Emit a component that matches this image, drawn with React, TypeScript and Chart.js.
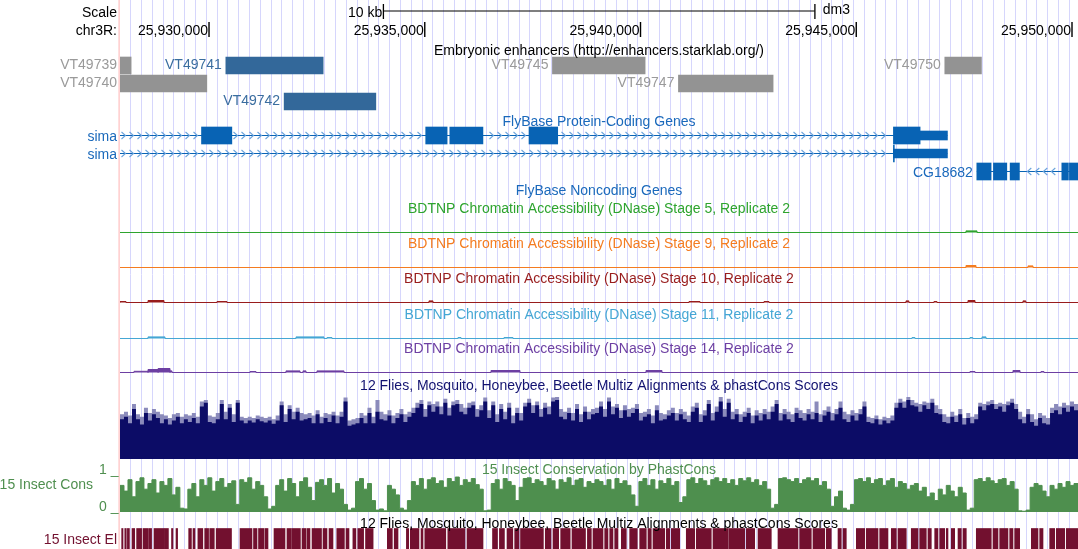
import React, { useEffect, useRef } from "react";
import { Chart, registerables } from "chart.js";

Chart.register(...registerables);

// ---------------- genomic window (dm3, chr3R) ----------------
const WIN_START = 25927937;
const WIN_END = 25950139;
const GRID_STEP_BP = 250;
const SCALE_BAR_BP = 10000;
const rulerTicks = [25930000, 25935000, 25940000, 25945000, 25950000];

// ---------------- Embryonic enhancers ----------------
const enhancerNames = ["VT49739", "VT49740", "VT49741", "VT49742", "VT49745", "VT49747", "VT49750"];
const enhancerStarts = [25927700, 25927500, 25930390, 25931741, 25937959, 25940879, 25947052];
const enhancerEnds = [25928195, 25929949, 25932645, 25933866, 25940107, 25943073, 25947901];
const enhancerRow = [0, 1, 0, 2, 0, 1, 0];
const enhancerActive = [false, false, true, true, false, false, false];

// ---------------- FlyBase protein-coding genes ----------------
const geneNames = ["sima", "sima", "CG18682"];
const geneStarts = [25915000, 25915000, 25947794];
const geneEnds = [25947113, 25947113, 25950400];
const geneStrand = ["+", "+", "-"];
const geneCds = [
  [[25929826, 25930529], [25935022, 25935518], [25935581, 25936348], [25937416, 25938081], [25945861, 25946480]],
  [[25945861, 25945882]],
  [[25947794, 25948125], [25948179, 25948489], [25948566, 25948781], [25949764, 25949917], [25949940, 25950400]],
];
const geneUtr = [[[25946480, 25947113]], [[25945861, 25947113]], []];

// ---------------- BDTNP DNase peaks: [start, end, signal] ----------------
const dnaseStage5 = [[25947543, 25947798, 8]];
const dnaseStage9 = [[25947543, 25947775, 10], [25948980, 25949096, 8]];
const dnaseStage10 = [
  [25927937, 25928076, 5], [25928586, 25928957, 10], [25930185, 25930417, 5], [25935098, 25935190, 8],
  [25941124, 25941379, 5], [25942862, 25942978, 5], [25946153, 25946220, 8], [25946801, 25946870, 5],
  [25947589, 25947752, 10], [25948864, 25948930, 8],
];
const dnaseStage11 = [
  [25928586, 25928980, 8], [25932016, 25932665, 8], [25932734, 25932850, 5], [25935770, 25935840, 5],
  [25936836, 25937045, 5], [25946292, 25946360, 5], [25947636, 25947700, 5], [25947914, 25948007, 8],
];
const dnaseStage14 = [
  [25928261, 25928586, 6], [25928586, 25928820, 15], [25928820, 25929096, 20], [25929096, 25929142, 8],
  [25930950, 25931089, 5], [25931784, 25932109, 8], [25932178, 25932248, 8], [25932502, 25933128, 8],
  [25936535, 25937207, 10], [25940127, 25940498, 10], [25947636, 25947752, 5], [25948632, 25948795, 10],
  [25949281, 25949350, 5],
];
const dnaseTitles = [
  "BDTNP Chromatin Accessibility (DNase) Stage 5, Replicate 2",
  "BDTNP Chromatin Accessibility (DNase) Stage 9, Replicate 2",
  "BDTNP Chromatin Accessibility (DNase) Stage 10, Replicate 2",
  "BDTNP Chromatin Accessibility (DNase) Stage 11, Replicate 2",
  "BDTNP Chromatin Accessibility (DNase) Stage 14, Replicate 2",
];

// ---------------- Multiz conservation (per bin, 0-100) ----------------
const multizMean = [
  62, 66, 56, 78, 62, 54, 72, 60, 70, 64, 56, 62, 54, 60, 66, 56, 62, 58, 64, 56, 82, 88, 58, 56, 62,
  86, 62, 80, 58, 88, 60, 56, 60, 57, 62, 59, 57, 60, 55, 60, 84, 58, 78, 62, 74, 60, 62, 64, 56, 70,
  56, 64, 58, 68, 56, 66, 90, 52, 54, 56, 64, 56, 72, 56, 74, 62, 60, 68, 56, 64, 70, 58, 66, 72, 80,
  86, 66, 84, 74, 82, 70, 88, 68, 84, 86, 74, 70, 80, 84, 66, 76, 90, 64, 84, 58, 78, 62, 80, 56, 72,
  60, 82, 88, 72, 84, 66, 80, 70, 90, 92, 66, 62, 72, 60, 78, 58, 74, 62, 70, 72,
  82, 66, 90, 70, 80, 64, 76, 66, 72, 78, 60, 66, 70, 56, 76, 60, 62, 68, 72, 60, 70, 62, 58, 74, 80,
  58, 68, 86, 60, 74, 90, 66, 88, 62, 70, 58, 66, 72, 56, 68, 60, 70, 62, 74, 86, 60, 70, 62, 58, 72,
  64, 60, 70, 62, 72, 58, 68, 74, 60, 70, 80, 62, 58, 68, 60, 70, 82, 58, 56, 62, 54, 60, 56, 60, 80,
  88, 80, 92, 84, 82, 74, 84, 78, 88, 72, 70, 58, 56, 66, 58, 70, 54, 64, 56, 62, 82, 76, 84, 86, 78,
  82, 74, 84, 88, 78, 62, 56, 70, 58, 52, 64, 56, 54, 72, 76, 70, 80, 74, 82, 76,
];
const multizMax = [
  70, 74, 68, 86, 70, 66, 80, 72, 78, 74, 70, 68, 64, 70, 72, 66, 70, 68, 72, 66, 90, 92, 68, 66, 72,
  92, 74, 86, 70, 92, 66, 64, 66, 64, 68, 66, 64, 66, 62, 68, 90, 70, 84, 74, 80, 72, 70, 72, 68, 76,
  66, 72, 70, 74, 68, 74, 96, 60, 62, 64, 72, 68, 80, 66, 92, 74, 70, 76, 68, 72, 78, 70, 74, 80, 88,
  92, 78, 90, 86, 90, 82, 94, 80, 90, 92, 86, 80, 88, 90, 78, 84, 96, 76, 90, 70, 86, 74, 88, 68, 80,
  72, 88, 94, 84, 90, 78, 88, 82, 96, 97, 78, 74, 80, 72, 86, 70, 82, 74, 78, 80,
  90, 78, 96, 82, 86, 76, 84, 78, 80, 86, 72, 74, 78, 68, 84, 72, 70, 76, 80, 72, 78, 74, 68, 82, 88,
  70, 76, 92, 72, 82, 97, 78, 94, 74, 78, 70, 74, 80, 68, 76, 72, 78, 74, 82, 92, 72, 78, 74, 70, 80,
  76, 72, 78, 74, 90, 70, 76, 82, 72, 78, 90, 74, 70, 76, 72, 78, 90, 66, 64, 68, 62, 66, 64, 68, 88,
  94, 90, 97, 92, 88, 86, 90, 88, 94, 84, 78, 70, 66, 74, 68, 78, 64, 72, 66, 70, 88, 86, 90, 92, 86,
  88, 86, 90, 94, 86, 74, 66, 78, 70, 62, 72, 68, 64, 80, 86, 82, 88, 84, 90, 86,
];

// ---------------- 15 insect phastCons (per bin, 0-100) ----------------
const phastCons = [
  70, 55, 85, 40, 80, 90, 60, 75, 85, 50, 80, 70, 88, 45, 65, 10, 8, 60, 75, 40, 85, 70, 90, 55, 80,
  88, 65, 75, 82, 20, 85, 78, 90, 60, 80, 70, 40, 8, 15, 70, 85, 55, 88, 75, 40, 80, 90, 65, 30, 78,
  85, 70, 88, 50, 75, 60, 20, 5, 10, 80, 88, 60, 75, 30, 5, 8, 3, 70, 60, 45, 10, 5, 30, 80, 70,
  88, 60, 85, 90, 75, 82, 65, 88, 80, 92, 70, 85, 78, 88, 72, 60, 3, 5, 75, 85, 60, 88, 80, 70, 30,
  65, 88, 90, 75, 85, 80, 70, 88, 82, 60, 85, 78, 90, 70, 84, 88, 65, 80, 75, 85,
  80, 70, 85, 60, 88, 75, 82, 70, 45, 15, 80, 88, 70, 85, 60, 82, 75, 88, 70, 80, 25, 40, 85, 90, 75,
  88, 82, 70, 85, 90, 80, 88, 75, 85, 70, 88, 82, 90, 78, 85, 70, 80, 60, 10, 20, 88, 90, 85, 80, 88,
  75, 85, 90, 82, 88, 70, 80, 60, 15, 40, 55, 10, 5, 20, 85, 88, 80, 90, 75, 85, 88, 70, 82, 88, 65,
  80, 75, 60, 70, 75, 55, 65, 40, 50, 30, 60, 45, 70, 55, 40, 65, 50, 5, 10, 85, 88, 80, 90, 82, 75,
  85, 88, 70, 80, 60, 3, 2, 5, 65, 75, 70, 55, 40, 70, 60, 75, 65, 80, 70, 75,
];

// ---------------- 15 insect conserved elements ----------------
const elementStarts = [
  25927976, 25928048, 25928108, 25928215, 25928322, 25928470, 25928616, 25928725, 25928980, 25929131,
  25929235, 25929529, 25929629, 25929742, 25929900, 25930016, 25930166, 25930718, 25931031, 25931147,
  25931297, 25931506, 25931807, 25931914, 25932155, 25932271, 25932387, 25932642, 25932781, 25932961,
  25933175, 25933334, 25933448, 25933627, 25934132, 25934292, 25934574, 25934665, 25934913, 25935001,
  25935534, 25935979, 25936570, 25936730, 25936906, 25937084, 25937219, 25937793, 25937972, 25938150,
  25938412, 25938769, 25938899, 25939170, 25939286, 25939402, 25939555, 25939749, 25939981, 25940173,
  25940289, 25940597, 25940713, 25941061, 25941293, 25941680, 25942044, 25942451, 25942723, 25943186,
  25943689, 25943997, 25944305, 25944577, 25944693, 25945001, 25945232, 25945543, 25945812, 25945967,
  25946275, 25946470, 25946662, 25946818, 25946934, 25947086, 25947202, 25947358, 25947473, 25947782,
  25948169, 25948324, 25948556, 25948671, 25949057, 25949251, 25949483, 25949636, 25949868,
];
const elementEnds = [
  25928007, 25928083, 25928155, 25928278, 25928438, 25928597, 25928669, 25928971, 25929059, 25929165,
  25929272, 25929592, 25929675, 25929856, 25929990, 25930122, 25930521, 25930996, 25931112, 25931274,
  25931367, 25931761, 25931900, 25932118, 25932248, 25932340, 25932607, 25932734, 25932873, 25933137,
  25933244, 25933404, 25933583, 25933803, 25934248, 25934380, 25934628, 25934866, 25934959, 25935487,
  25935932, 25936350, 25936686, 25936846, 25937040, 25937184, 25937749, 25937925, 25938104, 25938370,
  25938725, 25938860, 25939131, 25939246, 25939362, 25939478, 25939671, 25939925, 25940134, 25940250,
  25940560, 25940676, 25940908, 25941256, 25941640, 25942027, 25942414, 25942646, 25943031, 25943650,
  25943958, 25944268, 25944421, 25944653, 25944769, 25945195, 25945504, 25945735, 25945928, 25946159,
  25946431, 25946623, 25946739, 25946894, 25947049, 25947126, 25947281, 25947434, 25947550, 25948129,
  25948285, 25948516, 25948632, 25948787, 25949212, 25949328, 25949599, 25949831, 25950139,
];

// ---------------- layout & style (pixels / colours) ----------------
const W = 1078;
const H = 549;
const GUTTER = 120;
const FONT = '14px "Liberation Sans", Arial, Helvetica, sans-serif';
const ENH_ROWS = [65.5, 83.5, 101.5];
const GENE_ROWS = [135.5, 153.5, 171.5];
const DNASE_BASE = [232.5, 267.5, 302.5, 338.5, 372.5];
const DNASE_COLORS = ["#2ea42e", "#f47c20", "#981c1c", "#45a7d4", "#6d3fa2"];
const DNASE_PX = 20;
const MZ_BASE = 459;
const MZ_TOP = 395;
const PC_BASE = 512;
const PC_TOP = 474;
const EL_ROW = 539;
const GRID_COLOR = "rgb(214,214,252)";
const GENE_BLUE = "#0863b4";
const GENE_TEXT = "#1a69bb";
const CHEVRON = "#6aa3dc";
const ENH_GRAY = "#939393";
const ENH_GRAY_TXT = "#9a9a9a";
const ENH_BLUE = "#33689a";
const ENH_BLUE_TXT = "#3a6d9f";
const MZ_DARK = "#0c0c66";
const MZ_LIGHT = "#8b8bbb";
const MZ_TXT = "#121270";
const PC_GREEN = "#4e8f4e";
const PC_TXT = "#4f8f4f";
const EL_COLOR = "#72102f";

const trackAxis = (base: number, top: number, full: number) => {
  const k = full / (base - top);
  return {
    type: "linear",
    axis: "y",
    display: false,
    beginAtZero: false,
    offset: false,
    min: (base - H) * k,
    max: base * k,
  };
};

const stepSeries = (peaks: number[][]) => {
  const pts: any[] = [{ x: WIN_START - 2000, y: 0 }];
  for (const [s, e, v] of peaks) {
    pts.push({ x: s, y: v });
    pts.push({ x: e, y: 0 });
  }
  pts.push({ x: WIN_END + 2000, y: 0 });
  return pts;
};

const binSeries = (vals: number[]) => {
  const bin = (WIN_END - WIN_START) / vals.length;
  const pts = vals.map((v, i) => ({ x: WIN_START + i * bin, y: v }));
  pts.push({ x: WIN_END, y: vals[vals.length - 1] });
  return pts;
};

const barBase = {
  type: "bar",
  indexAxis: "y",
  xAxisID: "x",
  yAxisID: "rows",
  stack: "feat",
  grouped: true,
  borderWidth: 0,
  clip: 0,
  order: 1,
};

function buildDatasets() {
  const ds: any[] = [];
  [false, true].forEach((active) => {
    const data = enhancerNames
      .map((_, i) => i)
      .filter((i) => enhancerActive[i] === active)
      .map((i) => ({ x: [enhancerStarts[i], enhancerEnds[i]], y: ENH_ROWS[enhancerRow[i]] }));
    ds.push({ ...barBase, data, barThickness: 17, backgroundColor: active ? ENH_BLUE : ENH_GRAY });
  });
  geneNames.forEach((_, g) => {
    ds.push({
      type: "line",
      data: [
        { x: geneStarts[g], y: GENE_ROWS[g] },
        { x: geneEnds[g], y: GENE_ROWS[g] },
      ],
      xAxisID: "x",
      yAxisID: "rows",
      borderColor: GENE_BLUE,
      borderWidth: 1,
      pointRadius: 0,
      fill: false,
      clip: 0,
      order: 5,
    });
  });
  const cdsData: any[] = [];
  const utrData: any[] = [];
  geneNames.forEach((_, g) => {
    geneCds[g].forEach(([s, e]) => cdsData.push({ x: [s, e], y: GENE_ROWS[g] }));
    geneUtr[g].forEach(([s, e]) => utrData.push({ x: [s, e], y: GENE_ROWS[g] }));
  });
  ds.push({ ...barBase, data: cdsData, barThickness: 17, backgroundColor: GENE_BLUE });
  ds.push({ ...barBase, data: utrData, barThickness: 9, backgroundColor: GENE_BLUE });
  [dnaseStage5, dnaseStage9, dnaseStage10, dnaseStage11, dnaseStage14].forEach((peaks, t) => {
    ds.push({
      type: "line",
      data: stepSeries(peaks),
      xAxisID: "x",
      yAxisID: "d" + t,
      stepped: true,
      borderColor: DNASE_COLORS[t],
      backgroundColor: DNASE_COLORS[t],
      borderWidth: 1,
      fill: "origin",
      pointRadius: 0,
      clip: 0,
      order: 3,
    });
  });
  ds.push({
    type: "line",
    data: binSeries(multizMean),
    xAxisID: "x",
    yAxisID: "mz",
    stepped: true,
    borderColor: "rgba(0,0,0,0)",
    borderWidth: 0,
    backgroundColor: MZ_DARK,
    fill: "origin",
    pointRadius: 0,
    clip: 0,
    order: 2,
  });
  ds.push({
    type: "line",
    data: binSeries(multizMax),
    xAxisID: "x",
    yAxisID: "mz",
    stepped: true,
    borderColor: "rgba(0,0,0,0)",
    borderWidth: 0,
    backgroundColor: MZ_LIGHT,
    fill: "origin",
    pointRadius: 0,
    clip: 0,
    order: 4,
  });
  ds.push({
    type: "line",
    data: binSeries(phastCons),
    xAxisID: "x",
    yAxisID: "pc",
    stepped: true,
    borderColor: PC_GREEN,
    borderWidth: 1,
    backgroundColor: PC_GREEN,
    fill: "origin",
    pointRadius: 0,
    clip: 0,
    order: 2,
  });
  const n = Math.min(elementStarts.length, elementEnds.length);
  const elData: any[] = [];
  for (let i = 0; i < n; i++) elData.push({ x: [elementStarts[i], elementEnds[i]], y: EL_ROW });
  ds.push({ ...barBase, data: elData, barThickness: 21, backgroundColor: EL_COLOR });
  return ds;
}

const decorPlugin = {
  id: "decor",
  afterDatasetsDraw(chart: any) {
    const { ctx, chartArea } = chart;
    const xs = chart.scales.x;
    const px = (v: number) => xs.getPixelForValue(v);
    const { left, right } = chartArea;
    const mid = (left + right) / 2;
    ctx.save();

    // intron chevrons
    ctx.strokeStyle = CHEVRON;
    ctx.lineWidth = 1.1;
    geneNames.forEach((_, g) => {
      const y = GENE_ROWS[g];
      const boxes = [...geneCds[g], ...geneUtr[g]].map(([s, e]) => [px(s), px(e)]);
      const x0 = Math.max(px(geneStarts[g]), left);
      const x1 = Math.min(px(geneEnds[g]), right);
      const dir = geneStrand[g] === "+" ? 1 : -1;
      for (let x = x0 + 4; x < x1 - 2; x += 8) {
        if (boxes.some(([a, b]) => x > a - 4 && x < b + 4)) continue;
        ctx.beginPath();
        ctx.moveTo(x - 2.5 * dir, y - 3.5);
        ctx.lineTo(x + 1.5 * dir, y);
        ctx.lineTo(x - 2.5 * dir, y + 3.5);
        ctx.stroke();
      }
    });

    ctx.fillStyle = "#ffd2d2";
    ctx.fillRect(left - 1.7, 0, 1.7, H);

    ctx.font = FONT;
    const text = (s: string, x: number, y: number, align: string, color: string) => {
      ctx.fillStyle = color;
      ctx.textAlign = align;
      ctx.textBaseline = "alphabetic";
      ctx.fillText(s, x, y);
    };

    text("Scale", left - 3, 17, "right", "#000");
    text("chr3R:", left - 3, 35, "right", "#000");
    const c = (WIN_START + WIN_END) / 2;
    const b1 = px(c - SCALE_BAR_BP / 2);
    const b2 = px(c + SCALE_BAR_BP / 2);
    ctx.fillStyle = "#000";
    ctx.fillRect(b1, 10.5, b2 - b1, 1);
    ctx.fillRect(b1 - 0.5, 4, 1.3, 15);
    ctx.fillRect(b2 - 0.5, 4, 1.3, 15);
    text("10 kb", b1 - 1, 16.5, "right", "#000");
    text("dm3", b2 + 8, 13.5, "left", "#000");
    rulerTicks.forEach((v) => {
      const p = px(v);
      ctx.fillStyle = "#000";
      ctx.fillRect(p - 0.7, 22, 1.4, 15);
      text(v.toLocaleString("en-US"), p - 1, 35, "right", "#000");
    });

    text("Embryonic enhancers (http://enhancers.starklab.org/)", mid, 55, "center", "#000");
    enhancerNames.forEach((name, i) => {
      const p = px(enhancerStarts[i]);
      const x = p <= left ? left - 3 : p - 4;
      text(name, x, ENH_ROWS[enhancerRow[i]] + 3.5, "right", enhancerActive[i] ? ENH_BLUE_TXT : ENH_GRAY_TXT);
    });

    text("FlyBase Protein-Coding Genes", mid, 126, "center", GENE_TEXT);
    geneNames.forEach((name, g) => {
      const p = px(geneStarts[g]);
      const x = p <= left ? left - 3 : p - 4;
      text(name, x, GENE_ROWS[g] + 5.5, "right", GENE_TEXT);
    });
    text("FlyBase Noncoding Genes", mid, 195, "center", GENE_TEXT);

    dnaseTitles.forEach((t, i) => text(t, mid, DNASE_BASE[i] - 19.2, "center", DNASE_COLORS[i]));

    text("12 Flies, Mosquito, Honeybee, Beetle Multiz Alignments & phastCons Scores", mid, 389.5, "center", MZ_TXT);
    text("15 Insect Conservation by PhastCons", mid, 474, "center", PC_TXT);
    text("15 Insect Cons", 93, 488.5, "right", PC_TXT);
    text("1 _", left - 1.5, PC_TOP, "right", PC_TXT);
    text("0 _", left - 1.5, PC_BASE - 1, "right", PC_TXT);
    text("12 Flies, Mosquito, Honeybee, Beetle Multiz Alignments & phastCons Scores", mid, 528, "center", "#000");
    text("15 Insect El", left - 3, 544, "right", EL_COLOR);

    ctx.restore();
  },
};

export default function App() {
  const ref = useRef<HTMLCanvasElement | null>(null);
  useEffect(() => {
    document.body.style.margin = "0";
    const canvas = ref.current;
    if (!canvas) return;
    const scales: any = {
      x: {
        type: "linear",
        axis: "x",
        min: WIN_START,
        max: WIN_END,
        offset: false,
        stacked: false,
        beginAtZero: false,
        display: true,
        border: { display: false },
        grid: { color: GRID_COLOR, lineWidth: 1, drawTicks: false, offset: false },
        ticks: { display: false },
        afterBuildTicks: (s: any) => {
          const t: any[] = [];
          for (let v = WIN_START + GRID_STEP_BP; v < WIN_END; v += GRID_STEP_BP) t.push({ value: v });
          s.ticks = t;
        },
        afterFit: (s: any) => {
          s.height = 0;
        },
      },
      rows: {
        type: "linear",
        axis: "y",
        display: false,
        reverse: true,
        min: 0,
        max: H,
        offset: false,
        beginAtZero: false,
      },
      mz: trackAxis(MZ_BASE, MZ_TOP, 100),
      pc: trackAxis(PC_BASE, PC_TOP, 100),
    };
    DNASE_BASE.forEach((b, i) => {
      scales["d" + i] = trackAxis(b, b - DNASE_PX, 100);
    });
    const chart = new Chart(canvas, {
      type: "scatter",
      data: { datasets: buildDatasets() },
      options: {
        responsive: false,
        maintainAspectRatio: false,
        animation: false,
        events: [],
        layout: { padding: { left: GUTTER, right: 0, top: 0, bottom: 0 } },
        scales,
        plugins: {
          legend: { display: false },
          tooltip: { enabled: false },
          title: { display: false },
        },
      } as any,
      plugins: [decorPlugin as any],
    } as any);
    return () => chart.destroy();
  }, []);
  return (
    <div style={{ width: W, height: H, position: "relative", background: "#fff" }}>
      <canvas ref={ref} width={W} height={H} style={{ display: "block", width: W, height: H }} />
    </div>
  );
}
